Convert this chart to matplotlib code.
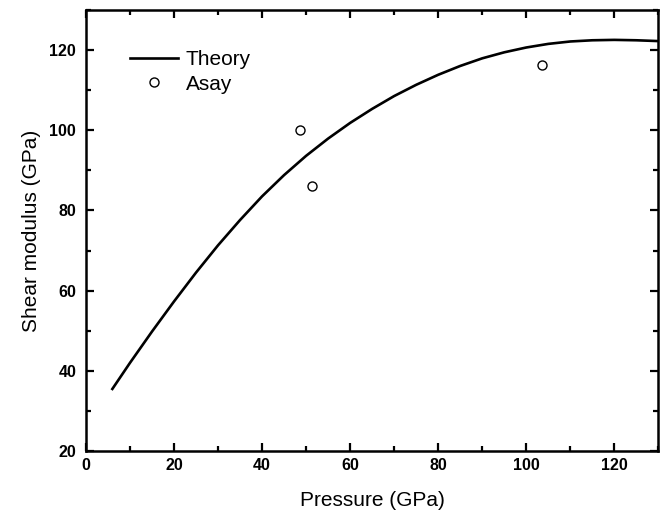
import numpy as np
from matplotlib import pyplot as plt
from matplotlib.ticker import MultipleLocator

# Theory curve
theory_p = [6, 10, 15, 20, 25, 30, 35, 40, 45, 50, 55, 60, 65, 70, 75,
            80, 85, 90, 95, 100, 105, 110, 115, 120, 125, 130]
theory_g = [35.5, 42.0, 49.8, 57.3, 64.5, 71.3, 77.6, 83.5, 88.8, 93.6, 97.9,
            101.8, 105.3, 108.5, 111.3, 113.8, 116.0, 117.9, 119.4, 120.6,
            121.5, 122.1, 122.4, 122.5, 122.4, 122.2]

# Asay experimental points
asay_p = [48.6, 51.3, 103.6]
asay_g = [100.0, 86.0, 116.3]

plt.rcParams['font.family'] = ['Liberation Sans', 'DejaVu Sans']

fig = plt.figure(figsize=(6.61, 5.15), dpi=100)
ax = fig.add_axes([0.130, 0.124, 0.866, 0.857])

ax.plot(theory_p, theory_g, color='black', linewidth=1.9, label='Theory')
ax.plot(asay_p, asay_g, linestyle='none', marker='o', markersize=6.5,
        markerfacecolor='white', markeredgecolor='black', markeredgewidth=1.0,
        label='Asay')

ax.set_xlim(0, 130)
ax.set_ylim(20, 130)
ax.xaxis.set_major_locator(MultipleLocator(20))
ax.xaxis.set_minor_locator(MultipleLocator(10))
ax.yaxis.set_major_locator(MultipleLocator(20))
ax.yaxis.set_minor_locator(MultipleLocator(10))
ax.tick_params(which='both', direction='in', top=True, right=True, width=1.6)
ax.tick_params(which='major', length=6, labelsize=11.5)
ax.tick_params(axis='y', which='major', pad=7)
ax.tick_params(axis='x', which='major', pad=5)
ax.tick_params(which='minor', length=3.5)
for lbl in ax.get_xticklabels() + ax.get_yticklabels():
    lbl.set_fontweight('bold')
for s in ax.spines.values():
    s.set_linewidth(1.8)

ax.set_xlabel('Pressure (GPa)', fontsize=15, labelpad=13)
ax.set_ylabel('Shear modulus (GPa)', fontsize=15, labelpad=6)

ax.legend(loc='upper left', frameon=False, fontsize=15, handlelength=2.3,
          handletextpad=0.4, labelspacing=0.25, borderaxespad=0.6,
          bbox_to_anchor=(0.04, 0.955))

fig.savefig('out.png', dpi=100)
